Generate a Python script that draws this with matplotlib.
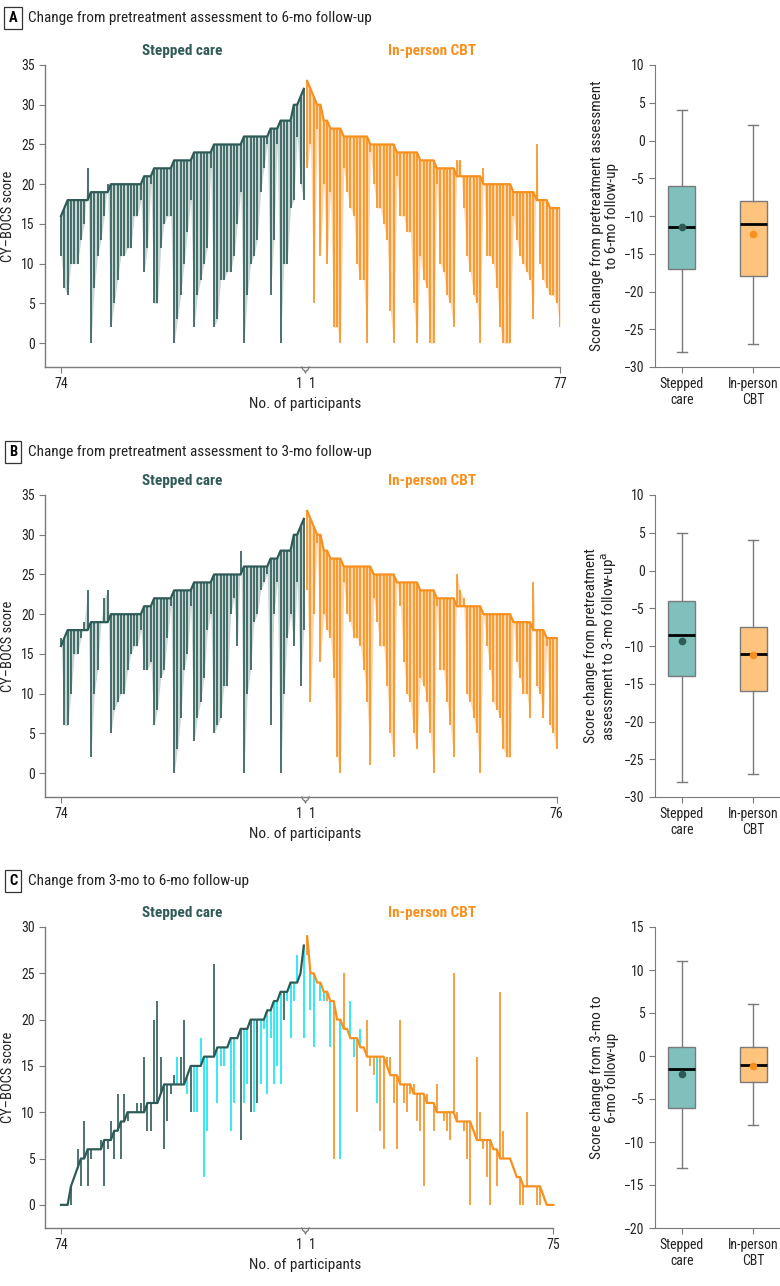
import numpy as np
import matplotlib
matplotlib.use('Agg')
import matplotlib.pyplot as plt
from matplotlib import font_manager as fm
from matplotlib.transforms import blended_transform_factory


def pick_font():
    # cari font sempit (narrow / condensed) kalau ada, kalau tidak pakai Lato
    prefs = ['Liberation Sans Narrow', 'Roboto Condensed', 'Open Sans Condensed',
             'Noto Sans Condensed', 'DejaVu Sans Condensed']
    names = {f.name for f in fm.fontManager.ttflist}
    for p in prefs:
        if p in names:
            return [p, 'DejaVu Sans'], 'normal'
    for f in fm.fontManager.ttflist:
        if f.stretch in ('condensed', 'semi-condensed') and \
                f.name in ('Noto Sans', 'DejaVu Sans', 'Open Sans', 'Roboto'):
            return [f.name, 'DejaVu Sans'], f.stretch
    return ['Lato', 'DejaVu Sans'], 'normal'


family, stretch = pick_font()
plt.rcParams['font.family'] = family
plt.rcParams['font.stretch'] = stretch
print('font:', family, stretch)

# warna
TEAL = '#2e5b57'
TEAL_LIGHT = '#c9d8d5'
ORANGE = '#f7901e'
ORANGE_LIGHT = '#fdd8ae'
CYAN = '#12e6f2'
BOX_TEAL = '#80c0bc'
BOX_ORANGE = '#fec47e'
GREY = '#7a7a7a'

# ---------------- data panel A (pretreatment -> 6 bulan) ----------------
pre_stepped = [16, 17, 18, 18, 18, 18, 18, 18, 18, 19, 19, 19, 19, 19, 19,
               20, 20, 20, 20, 20, 20, 20, 20, 20, 20, 21, 21, 21,
               22, 22, 22, 22, 22, 22, 23, 23, 23, 23, 23, 23,
               24, 24, 24, 24, 24, 24, 25, 25, 25, 25, 25, 25, 25, 25, 25,
               26, 26, 26, 26, 26, 26, 26, 26, 27, 27, 27, 28, 28, 28, 28,
               30, 30, 31, 32]
fu6_stepped = [11, 7, 6, 10, 10, 10, 13, 15, 22, 0, 7, 11, 13, 16, 20, 2, 5, 8, 11, 11,
               12, 12, 16, 16, 18, 9, 12, 20, 5, 5, 12, 15, 16, 16, 0, 3, 6, 10, 14, 18,
               2, 6, 8, 10, 12, 22, 2, 3, 8, 8, 9, 9, 11, 15, 19, 0, 6, 10, 11, 13,
               19, 22, 25, 6, 13, 25, 0, 10, 10, 17, 18, 26, 20, 18]

pre_cbt_a = [33, 32, 31, 30, 30, 28, 28, 27, 27, 27, 27,
             26, 26, 26, 26, 26, 26, 26, 26, 25, 25, 25, 25, 25, 25, 25, 25,
             24, 24, 24, 24, 24, 24, 24, 23, 23, 23, 23, 23, 22, 22, 22, 22, 22, 22,
             21, 21, 21, 21, 21, 21, 21, 21, 20, 20, 20, 20, 20, 20, 20, 20, 20,
             19, 19, 19, 19, 19, 19, 19, 18, 18, 18, 18, 17, 17, 17, 17]
fu6_cbt = [22, 25, 5, 27, 11, 20, 10, 19, 2, 2, 0, 22, 19, 17, 16, 10, 8, 8, 0,
           24, 20, 17, 17, 15, 13, 4, 0, 21, 16, 16, 14, 14, 5, 0, 11, 8, 7, 0, 0,
           20, 10, 9, 6, 5, 2, 23, 23, 17, 11, 9, 6, 5, 0, 22, 11, 11, 10, 7, 2, 0, 0, 0,
           16, 13, 11, 10, 9, 8, 3, 25, 10, 8, 7, 6, 6, 5, 2]

# ---------------- data panel B (pretreatment -> 3 bulan) ----------------
fu3_stepped = [17, 6, 6, 10, 15, 15, 17, 19, 23, 2, 10, 13, 19, 22, 23, 5, 8, 9, 10, 10,
               13, 15, 16, 16, 18, 13, 13, 14, 6, 8, 12, 13, 17, 21, 0, 3, 7, 13, 15, 21,
               4, 7, 9, 12, 18, 20, 5, 6, 7, 11, 11, 20, 22, 16, 28, 0, 10, 13, 19, 20,
               23, 24, 25, 6, 20, 24, 0, 10, 17, 20, 16, 24, 11, 18]

pre_cbt_b = [33, 32, 31, 30, 30, 28, 28, 27, 27, 27, 27,
             26, 26, 26, 26, 26, 26, 26, 26, 26, 25, 25, 25, 25, 25, 25, 25,
             24, 24, 24, 24, 24, 24, 24, 23, 23, 23, 23, 23, 22, 22, 22, 22, 22, 22,
             21, 21, 21, 21, 21, 21, 21, 21, 20, 20, 20, 20, 20, 20, 20, 20, 20,
             19, 19, 19, 19, 19, 19, 18, 18, 18, 18, 17, 17, 17, 17]
fu3_cbt = [23, 9, 20, 29, 14, 20, 18, 17, 12, 2, 0, 24, 20, 19, 17, 17, 16, 13, 9, 1,
           22, 19, 16, 16, 11, 5, 2, 24, 21, 14, 10, 9, 5, 3, 12, 11, 9, 5, 0,
           21, 13, 13, 9, 6, 2, 25, 23, 22, 10, 9, 7, 5, 0, 20, 16, 13, 9, 8, 7, 3, 2, 2,
           19, 14, 12, 10, 10, 7, 24, 11, 10, 7, 16, 6, 5, 3]

# ---------------- data panel C (3 bulan -> 6 bulan) ----------------
m3_stepped = [0, 0, 0, 2, 3, 4, 5, 5, 6, 6, 6, 6, 6, 7, 7, 7, 8, 8, 9, 9,
              10, 10, 10, 10, 10, 10, 11, 11, 11, 11, 12, 13, 13, 13, 13, 13, 13, 13, 14,
              15, 15, 15, 15, 16, 16, 16, 16, 17, 17, 17, 17, 18, 18, 18, 19, 19, 19,
              20, 20, 20, 20, 20, 21, 21, 22, 22, 23, 23, 23, 24, 24, 24, 25, 28]
m6_stepped = [0, 0, 0, 0, 3, 6, 2, 9, 2, 5, 6, 6, 7, 2, 6, 9, 5, 12, 5, 12,
              9, 10, 10, 11, 11, 16, 8, 8, 20, 22, 16, 6, 9, 12, 14, 16, 16, 20, 12,
              10, 10, 10, 18, 3, 8, 16, 26, 11, 15, 15, 17, 8, 11, 18, 7, 11, 13,
              10, 10, 11, 13, 19, 12, 18, 13, 15, 13, 20, 22, 18, 22, 27, 25, 18]
cyan_stepped = [0, 0, 0, 0, 0, 0, 0, 0, 0, 0, 0, 0, 0, 0, 0, 0, 0, 0, 0, 0,
                0, 0, 0, 0, 0, 0, 0, 0, 0, 0, 0, 0, 0, 0, 0, 1, 0, 0, 1,
                0, 1, 1, 1, 1, 1, 1, 0, 1, 1, 1, 0, 1, 1, 1, 0, 1, 1,
                0, 1, 0, 1, 1, 1, 1, 1, 1, 1, 0, 1, 1, 1, 1, 0, 1]

m3_cbt = [29, 25, 25, 24, 24, 23, 23, 22, 22, 20, 20, 19, 19, 18, 18, 18, 17, 17,
          16, 16, 16, 16, 16, 16, 15, 14, 14, 14, 13, 13, 13, 13, 12, 12, 12, 12,
          11, 11, 11, 10, 10, 10, 10, 10, 10, 9, 9, 9, 9, 9, 8, 7, 7, 7, 7, 7,
          6, 6, 5, 5, 5, 5, 4, 3, 3, 2, 2, 2, 2, 2, 2, 1, 0, 0, 0]
m6_cbt = [27, 21, 17, 24, 22, 22, 22, 17, 5, 20, 5, 25, 19, 22, 16, 10, 19, 17,
          20, 15, 14, 11, 8, 6, 16, 16, 11, 6, 20, 11, 10, 12, 13, 9, 8, 2,
          12, 11, 8, 13, 10, 9, 8, 7, 25, 10, 9, 8, 5, 0, 8, 16, 10, 6, 3, 0,
          6, 2, 23, 8, 5, 5, 4, 3, 0, 0, 10, 2, 2, 0, 0, 1, 0, 0, 0]
cyan_cbt = [0, 1, 1, 0, 1, 1, 0, 1, 0, 0, 1, 0, 1, 1, 1, 0, 1, 1,
            0, 0, 0, 1, 0, 0, 0, 0, 0, 0, 0, 0, 0, 0, 0, 0, 0, 0,
            0, 0, 0, 0, 0, 0, 0, 0, 0, 0, 0, 0, 0, 0, 0, 0, 0, 0, 0, 0,
            0, 0, 0, 0, 0, 0, 0, 0, 0, 0, 0, 0, 0, 0, 0, 0, 0, 0, 0]

# ---------------- statistik boxplot ----------------
box_labels = ['Stepped\ncare', 'In-person\nCBT']
box_a = [(-28, -17, -11.5, -6, 4, -11.4), (-27, -18, -11, -8, 2, -12.4)]
box_b = [(-28, -14, -8.5, -4, 5, -9.3), (-27, -16, -11, -7.5, 4, -11.2)]
box_c = [(-13, -6, -1.5, 1, 11, -2.1), (-8, -3, -1, 1, 6, -1.2)]

titles = ['Change from pretreatment assessment to 6-mo follow-up',
          'Change from pretreatment assessment to 3-mo follow-up',
          'Change from 3-mo to 6-mo follow-up']

W, H = 780, 1286
fig = plt.figure(figsize=(W / 100, H / 100), dpi=100)

# ukuran font disesuaikan supaya judul A selebar aslinya (~342 px)
renderer = fig.canvas.get_renderer()
probe = fig.text(0, 0, titles[0], fontsize=10)
w_probe = probe.get_window_extent(renderer).width
probe.remove()
FS = min(12.5, 10 * 342 / w_probe)
TS = FS * 0.9
print('FS', FS)


def fx(px):
    return px / W


def fy(py):
    return 1 - py / H


def draw_lines(ax, pre_s, post_s, pre_c, post_c, ylim, yticks, right_label,
               cyan_s=None, cyan_c=None, fill=True):
    ns, nc = len(pre_s), len(pre_c)
    xs = np.arange(ns)
    xc = ns + np.arange(nc)
    pre_s, post_s = np.array(pre_s), np.array(post_s)
    pre_c, post_c = np.array(pre_c), np.array(post_c)
    if fill:
        ax.fill_between(xs, pre_s, post_s, color=TEAL_LIGHT, lw=0, zorder=1)
        ax.fill_between(xc, pre_c, post_c, color=ORANGE_LIGHT, lw=0, zorder=1)
    col_s = [CYAN if (cyan_s and cyan_s[i]) else TEAL for i in range(ns)]
    col_c = [CYAN if (cyan_c and cyan_c[i]) else ORANGE for i in range(nc)]
    ax.vlines(xs, pre_s, post_s, colors=col_s, lw=1.2, zorder=2)
    ax.vlines(xc, pre_c, post_c, colors=col_c, lw=1.2, zorder=2)
    ax.plot(xs, pre_s, color=TEAL, lw=1.6, zorder=3)
    ax.plot(xc, pre_c, color=ORANGE, lw=1.6, zorder=3)

    last = xc[-1]
    ax.set_xlim(-4.8, 150)
    ax.set_ylim(*ylim)
    ax.set_yticks(yticks)
    for s in ['top', 'right']:
        ax.spines[s].set_visible(False)
    for s in ['left', 'bottom']:
        ax.spines[s].set_color(GREY)
        ax.spines[s].set_linewidth(1)
    ax.spines['bottom'].set_bounds(-4.8, last)
    ax.set_xticks([0, last])
    ax.set_xticklabels(['74', str(right_label)])
    ax.tick_params(colors=GREY, labelcolor='#222222', labelsize=TS, length=4)

    tr = blended_transform_factory(ax.transData, ax.transAxes)
    h = ax.bbox.height
    # tanda kurung di tengah sumbu x
    bx = [72.4, 72.8, 73.2, 73.5, 73.8, 74.2, 74.6]
    by = [0, -3, -3.5, -6, -3.5, -3, 0]
    ax.plot(bx, [v / h for v in by], color=GREY, lw=0.9, transform=tr, clip_on=False)
    ax.text(71.6, -17 / h, '1', ha='center', va='center', fontsize=TS,
            color='#222222', transform=tr)
    ax.text(75.4, -17 / h, '1', ha='center', va='center', fontsize=TS,
            color='#222222', transform=tr)
    ax.text(73.5, -37 / h, 'No. of participants', ha='center', va='center',
            fontsize=FS, color='#222222', transform=tr)
    ax.text(36.6, 1 + 14 / h, 'Stepped care', ha='center', va='center',
            fontsize=FS, color=TEAL, fontweight='bold', transform=tr)
    ax.text(111.4, 1 + 14 / h, 'In-person CBT', ha='center', va='center',
            fontsize=FS, color=ORANGE, fontweight='bold', transform=tr)
    ax.set_ylabel('CY\u2013BOCS score', fontsize=FS * 0.95, color='#222222')
    ax.yaxis.set_label_coords(-0.058, 0.5)


def draw_box(ax, stats, ylim, yticks, ylabel):
    bstats = []
    for lo, q1, med, q3, hi, mean in stats:
        bstats.append(dict(whislo=lo, q1=q1, med=med, q3=q3, whishi=hi,
                           mean=mean, fliers=[]))
    bp = ax.bxp(bstats, positions=[1, 2], widths=0.38, patch_artist=True,
                showmeans=True, capwidths=0.14,
                boxprops=dict(edgecolor=GREY, lw=1),
                whiskerprops=dict(color=GREY, lw=1),
                capprops=dict(color=GREY, lw=1),
                medianprops=dict(color='black', lw=2))
    for patch, fc in zip(bp['boxes'], [BOX_TEAL, BOX_ORANGE]):
        patch.set_facecolor(fc)
    for m, c in zip(bp['means'], [TEAL, ORANGE]):
        m.set_marker('o')
        m.set_markerfacecolor(c)
        m.set_markeredgecolor(c)
        m.set_markersize(4.5)
    ax.set_xlim(0.62, 2.38)
    ax.set_ylim(*ylim)
    ax.set_yticks(yticks)
    ax.set_xticks([1, 2])
    ax.set_xticklabels(box_labels, fontsize=TS, linespacing=1.1)
    for s in ['top', 'right']:
        ax.spines[s].set_visible(False)
    for s in ['left', 'bottom']:
        ax.spines[s].set_color(GREY)
    ax.tick_params(colors=GREY, labelcolor='#222222', labelsize=TS, length=4)
    ax.set_ylabel(ylabel, fontsize=FS, color='#222222', linespacing=1.1)
    ax.yaxis.set_label_coords(-0.285, 0.5)


def panel_title(letter, text, py):
    fig.text(fx(13), fy(py), letter, ha='center', va='center', fontsize=FS * 0.95,
             fontweight='bold',
             bbox=dict(boxstyle='square,pad=0.3', fc='white', ec='#333333', lw=0.9))
    fig.text(fx(28), fy(py), text, ha='left', va='center', fontsize=FS,
             color='#222222')


# posisi panel (piksel: atas, bawah)
rows = [(65, 367), (495, 797), (927, 1228)]
axes_left = []
axes_box = []
for top, bot in rows:
    axes_left.append(fig.add_axes([fx(45), fy(bot), fx(560 - 45), (bot - top) / H]))
    axes_box.append(fig.add_axes([fx(655), fy(bot), fx(125), (bot - top) / H]))

panel_title('A', titles[0], 18)
panel_title('B', titles[1], 452)
panel_title('C', titles[2], 881)

draw_lines(axes_left[0], pre_stepped, fu6_stepped, pre_cbt_a, fu6_cbt,
           (-3, 35), range(0, 36, 5), len(pre_cbt_a))
draw_lines(axes_left[1], pre_stepped, fu3_stepped, pre_cbt_b, fu3_cbt,
           (-3, 35), range(0, 36, 5), len(pre_cbt_b))
draw_lines(axes_left[2], m3_stepped, m6_stepped, m3_cbt, m6_cbt,
           (-2.5, 30), range(0, 31, 5), len(m3_cbt),
           cyan_s=cyan_stepped, cyan_c=cyan_cbt, fill=False)

draw_box(axes_box[0], box_a, (-30, 10), range(-30, 11, 5),
         'Score change from pretreatment assessment\nto 6-mo follow-up')
draw_box(axes_box[1], box_b, (-30, 10), range(-30, 11, 5),
         'Score change from pretreatment\nassessment to 3-mo follow-up$^\\mathrm{a}$')
draw_box(axes_box[2], box_c, (-20, 15), range(-20, 16, 5),
         'Score change from 3-mo to\n6-mo follow-up')

plt.savefig('out.png', dpi=100)
plt.close()
print('saved out.png')
